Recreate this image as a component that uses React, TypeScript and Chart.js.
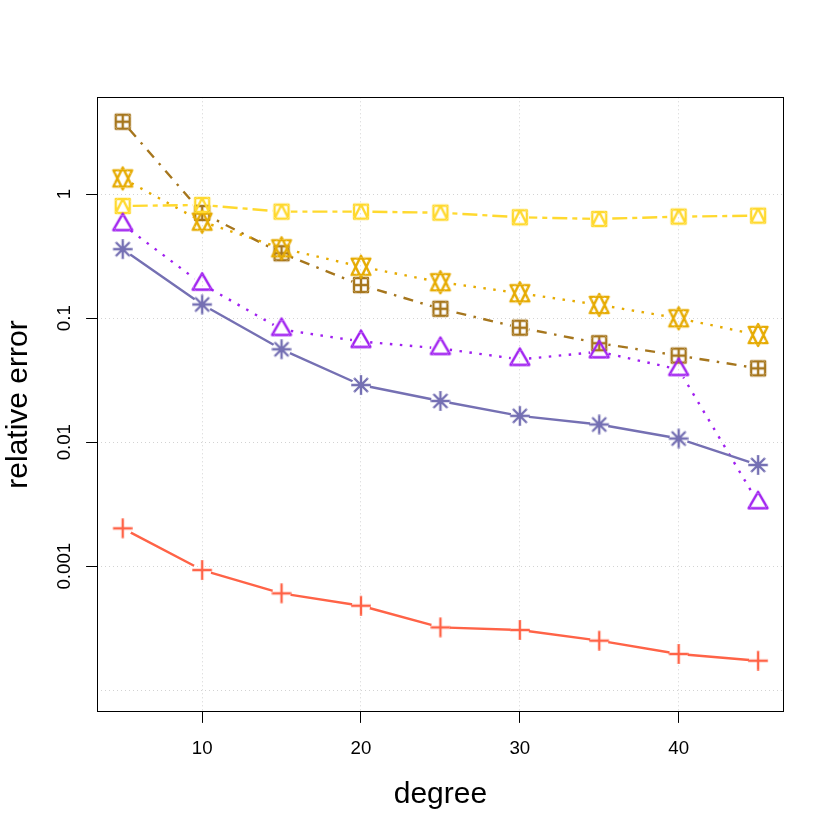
import React, { useEffect, useRef } from "react";
import { Chart, registerables } from "chart.js";

Chart.register(...registerables);

// polynomial degree on x, relative error (log scale) on y
const degrees = [5, 10, 15, 20, 25, 30, 35, 40, 45];
const plusErr = [0.00202, 0.000931, 0.000604, 0.00048, 0.000321, 0.000306, 0.000251, 0.000196, 0.000173];
const asteriskErr = [0.36, 0.129, 0.0561, 0.0289, 0.0215, 0.0163, 0.0139, 0.0107, 0.00655];
const triangleErr = [0.568, 0.188, 0.0811, 0.0649, 0.057, 0.0465, 0.0536, 0.0386, 0.00325];
const squarePlusErr = [3.84, 0.705, 0.334, 0.185, 0.119, 0.0838, 0.0628, 0.0499, 0.0394];
const davidErr = [1.34, 0.6, 0.366, 0.26, 0.195, 0.159, 0.128, 0.0998, 0.0732];
const squareTriErr = [0.803, 0.818, 0.723, 0.723, 0.709, 0.651, 0.631, 0.659, 0.671];

const xTicks = [10, 20, 30, 40];
const yTicks = [0.0001, 0.001, 0.01, 0.1, 1];
const yTickLabels = ["", "0.001", "0.01", "0.1", "1"];

const FONT = "'Liberation Sans', Arial, Helvetica, sans-serif";
const R = 7; // symbol radius, like R's pch size
const GAP = 9.3; // gap left around points (type = "b")

// draws R-like plotting symbols onto a small canvas used as pointStyle
const makeMarker = (shape: string, color: string) => {
  const c = document.createElement("canvas");
  c.width = 28;
  c.height = 28;
  const ctx = c.getContext("2d")!;
  ctx.translate(14, 14);
  ctx.strokeStyle = color;
  ctx.lineWidth = 2.4;
  ctx.lineJoin = "round";
  ctx.lineCap = "butt";
  ctx.beginPath();
  const tri = (dir: number, r: number, yc: number, xc: number) => {
    ctx.moveTo(0, -dir * r);
    ctx.lineTo(xc, dir * yc);
    ctx.lineTo(-xc, dir * yc);
    ctx.closePath();
  };
  if (shape === "plus" || shape === "asterisk") {
    const a = Math.SQRT2 * R;
    ctx.moveTo(-a, 0);
    ctx.lineTo(a, 0);
    ctx.moveTo(0, -a);
    ctx.lineTo(0, a);
    if (shape === "asterisk") {
      ctx.moveTo(-R, -R);
      ctx.lineTo(R, R);
      ctx.moveTo(-R, R);
      ctx.lineTo(R, -R);
    }
  } else if (shape === "triangle") {
    tri(1, 1.555 * R, 0.778 * R, 1.347 * R);
  } else if (shape === "david") {
    const r = 1.555 * R;
    const yc = 0.5 * (0.778 * R + r);
    tri(1, r, yc, 1.347 * R);
    tri(-1, r, yc, 1.347 * R);
  } else if (shape === "squarePlus") {
    ctx.rect(-R, -R, 2 * R, 2 * R);
    ctx.moveTo(-R, 0);
    ctx.lineTo(R, 0);
    ctx.moveTo(0, -R);
    ctx.lineTo(0, R);
  } else if (shape === "squareTri") {
    ctx.rect(-R, -R, 2 * R, 2 * R);
    ctx.moveTo(0, -R);
    ctx.lineTo(R, R);
    ctx.lineTo(-R, R);
    ctx.closePath();
  }
  ctx.stroke();
  return c;
};

const toPoints = (vals: number[]) => degrees.map((d, i) => ({ x: d, y: vals[i] }));

// lines stop short of each symbol, then the symbols are painted again inside the holes
const gapPlugin = {
  id: "gaps",
  beforeDatasetDraw(chart: any, args: any) {
    const ctx = chart.ctx;
    ctx.save();
    ctx.beginPath();
    ctx.rect(0, 0, chart.width, chart.height);
    args.meta.data.forEach((p: any) => {
      ctx.moveTo(p.x + GAP, p.y);
      ctx.arc(p.x, p.y, GAP, 0, Math.PI * 2);
    });
    ctx.clip("evenodd");
  },
  afterDatasetDraw(chart: any, args: any) {
    const ctx = chart.ctx;
    ctx.restore();
    ctx.save();
    ctx.beginPath();
    args.meta.data.forEach((p: any) => {
      ctx.moveTo(p.x + GAP, p.y);
      ctx.arc(p.x, p.y, GAP, 0, Math.PI * 2);
    });
    ctx.clip();
    args.meta.data.forEach((p: any) => p.draw(ctx, chart.chartArea));
    ctx.restore();
  },
};

// box, rotated y labels and axis titles
const decorPlugin = {
  id: "decor",
  afterDraw(chart: any) {
    const { ctx, chartArea: a } = chart;
    const ys = chart.scales.y;
    ctx.save();
    ctx.strokeStyle = "#000";
    ctx.lineWidth = 1;
    ctx.strokeRect(Math.round(a.left) + 0.5, Math.round(a.top) + 0.5, Math.round(a.right - a.left), Math.round(a.bottom - a.top));
    ctx.fillStyle = "#000";
    ctx.font = `18.7px ${FONT}`;
    ctx.textAlign = "center";
    ctx.textBaseline = "alphabetic";
    yTicks.forEach((v, i) => {
      if (!yTickLabels[i]) return;
      ctx.save();
      ctx.translate(70, ys.getPixelForValue(v));
      ctx.rotate(-Math.PI / 2);
      ctx.fillText(yTickLabels[i], 0, 0);
      ctx.restore();
    });
    ctx.font = `30px ${FONT}`;
    ctx.fillText("degree", (a.left + a.right) / 2, 803);
    ctx.save();
    ctx.translate(27, (a.top + a.bottom) / 2);
    ctx.rotate(-Math.PI / 2);
    ctx.fillText("relative error", 0, 0);
    ctx.restore();
    ctx.restore();
  },
};

export default function App() {
  const canvasRef = useRef<HTMLCanvasElement>(null);

  useEffect(() => {
    document.body.style.margin = "0";
    if (!canvasRef.current) return;

    const series = [
      { label: "squarePlus", data: squarePlusErr, color: "#A6761D", dash: [2.5, 7.5, 10, 7.5], shape: "squarePlus", order: 6 },
      { label: "david", data: davidErr, color: "#E6AB02", dash: [2.5, 7.5], shape: "david", order: 5 },
      { label: "squareTri", data: squareTriErr, color: "#FFD92F", dash: [5, 5, 15, 5], shape: "squareTri", order: 4 },
      { label: "triangle", data: triangleErr, color: "#A020F0", dash: [2.5, 7.5], shape: "triangle", order: 3 },
      { label: "asterisk", data: asteriskErr, color: "#7570B3", dash: [], shape: "asterisk", order: 2 },
      { label: "plus", data: plusErr, color: "#FF6347", dash: [], shape: "plus", order: 1 },
    ];

    const chart = new Chart(canvasRef.current, {
      type: "line",
      data: {
        datasets: series.map((s) => ({
          label: s.label,
          data: toPoints(s.data),
          borderColor: s.color,
          backgroundColor: s.color,
          borderWidth: 2.4,
          borderDash: s.dash,
          borderCapStyle: "butt",
          borderJoinStyle: "round",
          tension: 0,
          pointStyle: makeMarker(s.shape, s.color),
          pointRadius: 10,
          pointHoverRadius: 10,
          order: s.order,
        })),
      },
      options: {
        responsive: false,
        animation: false,
        events: [],
        layout: { padding: { top: 97.3, right: 50.5, left: 0, bottom: 0 } },
        plugins: { legend: { display: false }, tooltip: { enabled: false } },
        scales: {
          x: {
            type: "linear",
            min: 3.4,
            max: 46.6,
            afterBuildTicks: (scale: any) => {
              scale.ticks = xTicks.map((v) => ({ value: v }));
            },
            afterFit: (scale: any) => {
              scale.height = 834 - 711.7;
            },
            border: { display: false, dash: [1, 3] },
            grid: {
              color: "#d3d3d3",
              lineWidth: 1,
              tickLength: 11.2,
              tickColor: "#000",
              tickWidth: 1,
            },
            ticks: {
              color: "#000",
              font: { family: FONT, size: 18.7 },
              padding: 15,
              maxRotation: 0,
              callback: (v: any) => String(v),
            },
          },
          y: {
            type: "logarithmic",
            min: 6.71e-5,
            max: 6.04,
            afterBuildTicks: (scale: any) => {
              scale.ticks = yTicks.map((v) => ({ value: v }));
            },
            afterFit: (scale: any) => {
              scale.width = 97.3;
            },
            border: { display: false, dash: [1, 3] },
            grid: {
              color: "#d3d3d3",
              lineWidth: 1,
              tickLength: 11.2,
              tickColor: (c: any) => (c.tick && c.tick.value < 5e-4 ? "rgba(0,0,0,0)" : "#000"),
              tickWidth: 1,
            },
            ticks: { display: false },
          },
        },
      },
      plugins: [gapPlugin, decorPlugin],
    });

    return () => {
      chart.destroy();
    };
  }, []);

  return <canvas ref={canvasRef} width={834} height={834} />;
}
